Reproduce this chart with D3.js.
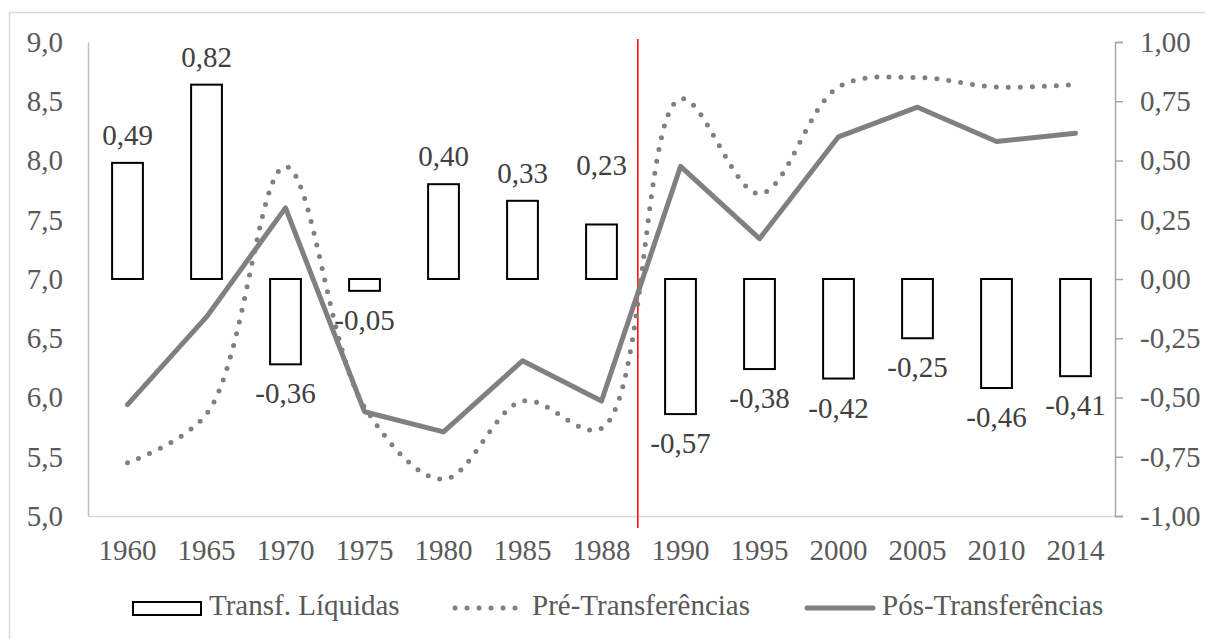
<!DOCTYPE html>
<html><head><meta charset="utf-8">
<script src="https://cdn.jsdelivr.net/npm/d3@7"></script>
<style>
html,body{margin:0;padding:0;background:#fff;}
svg{display:block;}
text{font-family:"Liberation Serif","Times New Roman",serif;}
</style></head>
<body>
<svg id="chart" width="1205" height="639"></svg>
<script>
const years = ["1960","1965","1970","1975","1980","1985","1988","1990","1995","2000","2005","2010","2014"];
const transf = [0.49,0.82,-0.36,-0.05,0.40,0.33,0.23,-0.57,-0.38,-0.42,-0.25,-0.46,-0.41];
const pre = [5.45,5.86,7.95,5.92,5.31,5.97,5.74,8.52,7.72,8.62,8.70,8.62,8.64];
const pos = [5.94,6.68,7.60,5.88,5.71,6.31,5.97,7.95,7.34,8.20,8.45,8.16,8.23];
const leftTicks = [5,5.5,6,6.5,7,7.5,8,8.5,9];
const rightTicks = [-1,-0.75,-0.5,-0.25,0,0.25,0.5,0.75,1];
const seriesNames = ["Transf. Líquidas","Pré-Transferências","Pós-Transferências"];

const svg = d3.select("#chart");
const fs = 29;
const axisColor = "#595959";
const serif = "'Liberation Serif','Times New Roman',serif";

// outer border
svg.append("rect").attr("x",9.5).attr("y",12.5).attr("width",1205).attr("height",640)
  .attr("fill","none").attr("stroke","#d9d9d9").attr("stroke-width",1.5);

const x = d3.scaleBand().domain(years).range([88,1115]).padding(0);
const yL = d3.scaleLinear().domain([5,9]).range([516,42]);
const yR = d3.scaleLinear().domain([-1,1]).range([516,42]);

// bottom axis
const gx = svg.append("g").attr("transform","translate(0,516)")
  .call(d3.axisBottom(x).tickSize(0).tickPadding(23));
gx.attr("font-family",serif);
gx.select(".domain").attr("stroke","#d9d9d9").attr("stroke-width",1.5);
gx.selectAll("text").attr("font-size",fs).attr("fill",axisColor);

// left axis
const gl = svg.append("g").attr("transform","translate(88,0)")
  .call(d3.axisLeft(yL).tickValues(leftTicks).tickSize(0).tickPadding(25)
    .tickFormat(d => d.toFixed(1).replace(".",",")));
gl.attr("font-family",serif);
gl.select(".domain").attr("stroke","#bfbfbf").attr("stroke-width",1.5);
gl.selectAll("text").attr("font-size",fs).attr("fill",axisColor);

// right axis
const gr = svg.append("g").attr("transform","translate(1115,0)")
  .call(d3.axisRight(yR).tickValues(rightTicks).tickSize(8).tickSizeOuter(8).tickPadding(17)
    .tickFormat(d => d.toFixed(2).replace(".",",")));
gr.attr("font-family",serif);
gr.select(".domain").attr("stroke","#a6a6a6").attr("stroke-width",1.5);
gr.selectAll(".tick line").attr("stroke","#a6a6a6").attr("stroke-width",1.5);
gr.selectAll("text").attr("font-size",fs).attr("fill",axisColor);

// bars
const bw = x.bandwidth()*0.39;
svg.append("g").selectAll("rect").data(transf).join("rect")
  .attr("x",(d,i)=>x(years[i])+x.bandwidth()/2-bw/2)
  .attr("y",d=>Math.min(yR(d),yR(0)))
  .attr("width",bw)
  .attr("height",d=>Math.abs(yR(d)-yR(0)))
  .attr("fill","#fff").attr("stroke","#000").attr("stroke-width",2);

// red separator line between 1988 and 1990
const sepX = x("1988")+x.bandwidth()/2+0.46*x.step();
svg.append("line").attr("x1",sepX).attr("x2",sepX).attr("y1",39).attr("y2",528)
  .attr("stroke","#ff0000").attr("stroke-width",1.5);

// pre line (smoothed, dotted)
const linePre = d3.line().x((d,i)=>x(years[i])+x.bandwidth()/2).y(d=>yL(d)).curve(d3.curveCatmullRom.alpha(0.5));
svg.append("path").attr("d",linePre(pre)).attr("fill","none")
  .attr("stroke","#808080").attr("stroke-width",5)
  .attr("stroke-dasharray","0 12").attr("stroke-linecap","round");

// pos line
const linePos = d3.line().x((d,i)=>x(years[i])+x.bandwidth()/2).y(d=>yL(d));
svg.append("path").attr("d",linePos(pos)).attr("fill","none")
  .attr("stroke","#808080").attr("stroke-width",5)
  .attr("stroke-linejoin","round").attr("stroke-linecap","round");

// bar value labels
const raised = {"1988":31};
svg.append("g").attr("font-family",serif).selectAll("text").data(transf).join("text")
  .attr("x",(d,i)=>x(years[i])+x.bandwidth()/2)
  .attr("y",(d,i)=> d>=0 ? yR(d)-18-(raised[years[i]]||0) : yR(d)+39)
  .attr("text-anchor","middle").attr("font-size",fs).attr("fill","#404040")
  .text(d=>d.toFixed(2).replace(".",","));

// legend
const lg = svg.append("g").attr("font-family",serif);
lg.append("rect").attr("x",133).attr("y",602).attr("width",68).attr("height",13)
  .attr("fill","#fff").attr("stroke","#000").attr("stroke-width",2);
lg.append("text").attr("x",209).attr("y",615).attr("font-size",fs).attr("fill",axisColor).text(seriesNames[0]);
lg.append("line").attr("x1",455).attr("x2",516).attr("y1",608).attr("y2",608)
  .attr("stroke","#808080").attr("stroke-width",5).attr("stroke-dasharray","0 12").attr("stroke-linecap","round");
lg.append("text").attr("x",532).attr("y",615).attr("font-size",fs).attr("fill",axisColor).text(seriesNames[1]);
lg.append("line").attr("x1",807).attr("x2",873).attr("y1",608).attr("y2",608)
  .attr("stroke","#808080").attr("stroke-width",5).attr("stroke-linecap","round");
lg.append("text").attr("x",882).attr("y",615).attr("font-size",fs).attr("fill",axisColor).text(seriesNames[2]);
</script>
</body></html>
